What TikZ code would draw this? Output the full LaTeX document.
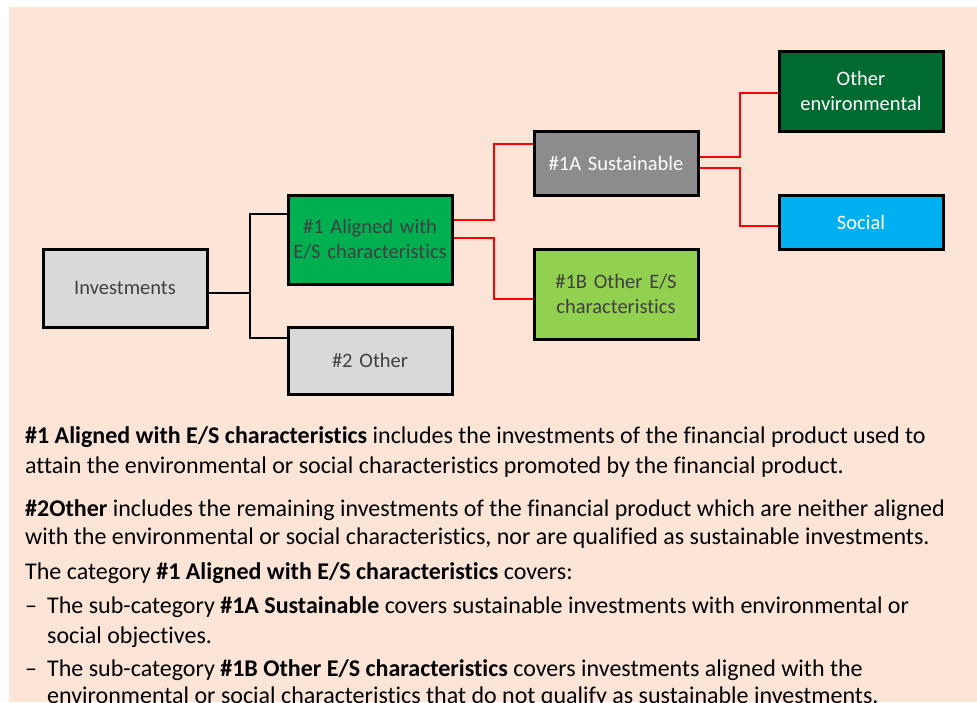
\documentclass[tikz,border=0pt]{standalone}
\usepackage{fontspec}
\setmainfont{Carlito}[Ligatures=NoCommon]
\definecolor{bgpeach}{HTML}{FCE4D6}
\definecolor{boxgray}{HTML}{D9D9D9}
\definecolor{boxgreen}{HTML}{00B050}
\definecolor{boxdkgreen}{HTML}{006B30}
\definecolor{boxmid}{HTML}{8C8C8C}
\definecolor{boxlime}{HTML}{92D050}
\definecolor{boxblue}{HTML}{00B0F0}
\definecolor{txtgray}{HTML}{404040}
\definecolor{linered}{HTML}{FF0000}
\begin{document}
\begin{tikzpicture}[x=1pt,y=-1pt,
  cat/.style={draw=black,line width=3pt,rectangle,minimum width=164pt,inner sep=2pt,
    align=center,text width=158pt,font=\fontsize{20.5}{25}\selectfont,text=txtgray},
  wtxt/.style={text=white},
  blk/.style={draw=black,line width=2pt},
  rdl/.style={draw=linered,line width=2pt},
  para/.style={anchor=base west,inner sep=0pt,font=\fontsize{24}{28}\selectfont,text=black}]
\useasboundingbox (0,0) rectangle (977,702);
\clip (0,0) rectangle (977,702);
\fill[bgpeach] (9,7) rectangle (977,702);

\node[cat,fill=boxgray,minimum height=78pt] (inv) at (125,288) {Investments};
\node[cat,fill=boxgreen,minimum height=89pt] (a1) at (370,239.5) {\#1 Aligned with\\E/S characteristics};
\node[cat,fill=boxgray,minimum height=67pt] (o2) at (370,360.5) {\#2 Other};
\node[cat,fill=boxmid,wtxt,minimum height=64pt] (s1a) at (616,163) {\#1A Sustainable};
\node[cat,fill=boxlime,minimum height=90pt] (o1b) at (616,294) {\#1B Other E/S\\characteristics};
\node[cat,fill=boxdkgreen,wtxt,minimum height=80pt] (env) at (861,91) {Other\\environmental};
\node[cat,fill=boxblue,wtxt,minimum height=54pt] (soc) at (861,222) {Social};

\draw[blk] ([yshift=-4.7pt]inv.east) -- ++(41,0) |- ([yshift=25.8pt]a1.west);
\draw[blk] ([yshift=-4.7pt]inv.east) -- ++(41,0) |- ([yshift=22.2pt]o2.west);
\draw[rdl] ([yshift=20pt]a1.east) -- ++(40,0) |- ([yshift=18.7pt]s1a.west);
\draw[rdl] ([yshift=1.5pt]a1.east) -- ++(40,0) |- ([yshift=-5pt]o1b.west);
\draw[rdl] ([yshift=5.7pt]s1a.east) -- ++(40,0) |- ([yshift=-2.3pt]env.west);
\draw[rdl] ([yshift=-4.7pt]s1a.east) -- ++(40,0) |- ([yshift=-3.7pt]soc.west);

\node[para] (p1) at (25,443) {\textbf{\#1 Aligned with E/S characteristics} includes the investments of the financial product used to};
\node[para] (p2) at (25,473) {attain the environmental or social characteristics promoted by the financial product.};
\node[para] (p3) at (25,516) {\textbf{\#2Other} includes the remaining investments of the financial product which are neither aligned};
\node[para] (p4) at (25,544) {with the environmental or social characteristics, nor are qualified as sustainable investments.};
\node[para] (p5) at (25,579) {The category \textbf{\#1 Aligned with E/S characteristics} covers:};
\node[para] (p6) at (25,613) {\makebox[22pt][l]{–}The sub-category \textbf{\#1A Sustainable} covers sustainable investments with environmental or};
\node[para] (p7) at (47,643) {social objectives.};
\node[para] (p8) at (25,676) {\makebox[22pt][l]{–}The sub-category \textbf{\#1B Other E/S characteristics} covers investments aligned with the};
\node[para] (p9) at (47,703) {environmental or social characteristics that do not qualify as sustainable investments.};
\end{tikzpicture}
\end{document}
